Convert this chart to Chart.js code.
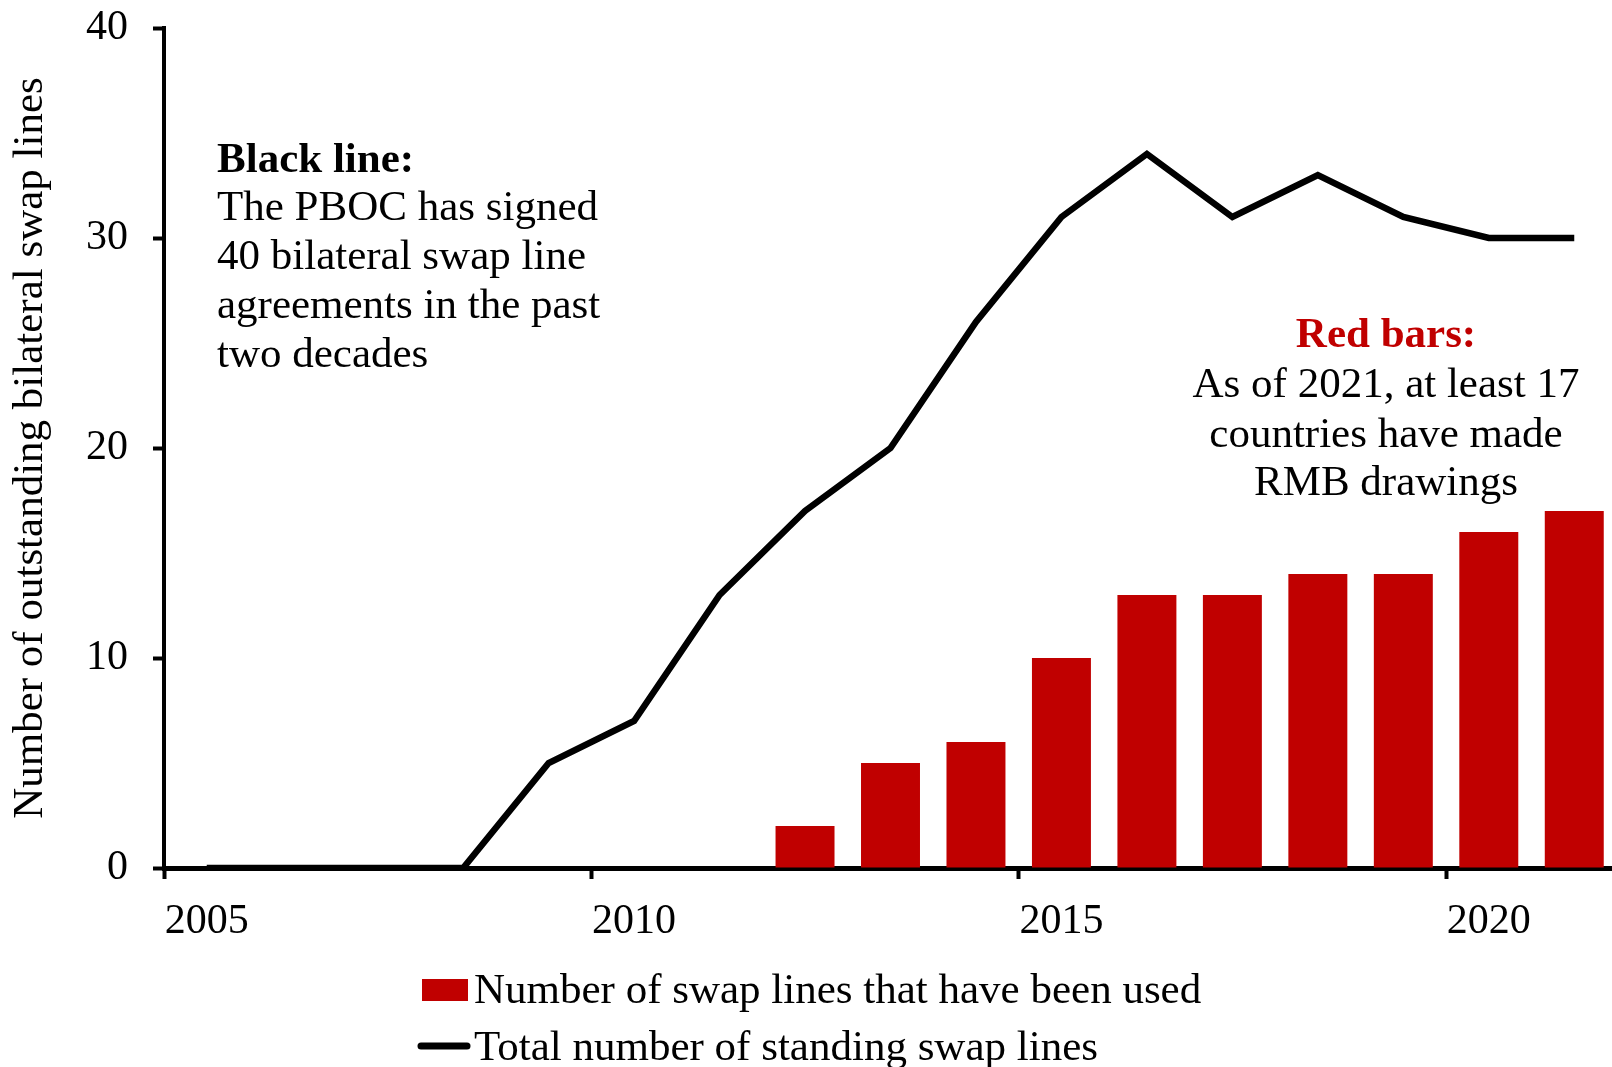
<!DOCTYPE html>
<html>
<head>
<meta charset="utf-8">
<script src="https://cdn.jsdelivr.net/npm/chart.js@4.4.1/dist/chart.umd.min.js"></script>
<style>
  html, body { margin: 0; padding: 0; background: #ffffff; overflow: hidden; }
  #wrap { width: 1612px; height: 1067px; overflow: hidden; }
  #c { display: block; }
</style>
</head>
<body>
<div id="wrap"><canvas id="c" width="1617" height="1067"></canvas></div>
<script>
// ---- data ----
const years = ['2005','2006','2007','2008','2009','2010','2011','2012','2013','2014','2015','2016','2017','2018','2019','2020','2021'];
const usedSwapLines = [0,0,0,0,0,0,0,2,5,6,10,13,13,14,14,16,17];
const totalSwapLines = [0,0,0,0,5,7,13,17,20,26,31,34,31,33,31,30,30];
const yTickValues = [0,10,20,30,40];
const labelUsed = 'Number of swap lines that have been used';
const labelTotal = 'Total number of standing swap lines';
const yTitle = 'Number of outstanding bilateral swap lines';
const blackNote = ['Black line:', 'The PBOC has signed', '40 bilateral swap line', 'agreements in the past', 'two decades'];
const redNote = ['Red bars:', 'As of 2021, at least 17', 'countries have made', 'RMB drawings'];

const FONT = "'Liberation Serif', 'Times New Roman', serif";
const RED = '#C00000';

const notesPlugin = {
  id: 'notes',
  afterDraw(chart) {
    const ctx = chart.ctx;
    ctx.save();
    ctx.textBaseline = 'alphabetic';
    ctx.textAlign = 'left';
    const bx = 217, by = [172, 220, 269, 318, 367];
    blackNote.forEach((t, i) => {
      ctx.font = (i === 0 ? 'bold ' : '') + '43px ' + FONT;
      ctx.fillStyle = '#000';
      ctx.fillText(t, bx, by[i]);
    });
    ctx.textAlign = 'center';
    const rx = 1386, ry = [347, 397, 447, 495];
    redNote.forEach((t, i) => {
      ctx.font = (i === 0 ? 'bold ' : '') + '43px ' + FONT;
      ctx.fillStyle = i === 0 ? RED : '#000';
      ctx.fillText(t, rx, ry[i]);
    });
    ctx.restore();
  }
};

const legendPlugin = {
  id: 'customLegend',
  afterDraw(chart) {
    const ctx = chart.ctx;
    ctx.save();
    ctx.font = '43px ' + FONT;
    ctx.textAlign = 'left';
    ctx.textBaseline = 'alphabetic';
    const rows = [
      { ds: chart.data.datasets[0], baseline: 1003, symY: 990 },
      { ds: chart.data.datasets[1], baseline: 1060, symY: 1046 }
    ];
    rows.forEach(r => {
      if (r.ds.type === 'line') {
        ctx.strokeStyle = r.ds.borderColor;
        ctx.lineWidth = 7;
        ctx.lineCap = 'round';
        ctx.beginPath();
        ctx.moveTo(421, r.symY);
        ctx.lineTo(467, r.symY);
        ctx.stroke();
      } else {
        ctx.fillStyle = r.ds.backgroundColor;
        ctx.fillRect(422, r.symY - 11, 46, 22);
      }
      ctx.fillStyle = '#000';
      ctx.fillText(r.ds.label, 474, r.baseline);
    });
    ctx.restore();
  }
};

new Chart(document.getElementById('c'), {
  type: 'bar',
  data: {
    labels: years,
    datasets: [
      {
        type: 'bar',
        label: labelUsed,
        data: usedSwapLines,
        backgroundColor: RED,
        borderWidth: 0,
        categoryPercentage: 0.69,
        barPercentage: 1.0,
        order: 2
      },
      {
        type: 'line',
        label: labelTotal,
        data: totalSwapLines,
        borderColor: '#000000',
        backgroundColor: '#000000',
        borderWidth: 6.5,
        pointRadius: 0,
        tension: 0,
        fill: false,
        order: 1
      }
    ]
  },
  options: {
    responsive: false,
    devicePixelRatio: 1,
    animation: false,
    layout: { padding: { top: 28, right: 0, bottom: 119, left: 0 } },
    plugins: {
      legend: { display: false },
      tooltip: { enabled: false },
      title: { display: false }
    },
    scales: {
      x: {
        type: 'category',
        offset: true,
        grid: {
          offset: true,
          drawOnChartArea: false,
          drawTicks: true,
          tickLength: 11,
          tickWidth: 4,
          tickColor: (c) => (typeof c.index === 'number' && c.index % 5 === 0) ? '#000' : 'rgba(0,0,0,0)'
        },
        border: { display: true, color: '#000', width: 5 },
        ticks: {
          autoSkip: false,
          maxRotation: 0,
          minRotation: 0,
          padding: 18,
          color: '#000',
          font: { family: FONT, size: 42 },
          callback: function (v, i) {
            const y = this.getLabelForValue(v);
            return Number(y) % 5 === 0 ? y : '';
          }
        },
        afterFit: (s) => { s.height = 80; s.paddingLeft = 0; s.paddingRight = 0; }
      },
      y: {
        min: 0,
        max: 40,
        afterBuildTicks: (s) => { s.ticks = yTickValues.map(v => ({ value: v })); },
        grid: {
          drawOnChartArea: false,
          drawTicks: true,
          tickLength: 11,
          tickWidth: 4,
          tickColor: '#000'
        },
        border: { display: true, color: '#000', width: 4 },
        ticks: {
          padding: 25,
          color: '#000',
          font: { family: FONT, size: 42 }
        },
        title: {
          display: true,
          text: yTitle,
          color: '#000',
          font: { family: FONT, size: 43, weight: 'normal' },
          padding: { top: 5, bottom: 0 }
        },
        afterFit: (s) => { s.width = 164; s.paddingTop = 20; s.paddingBottom = 20; }
      }
    }
  },
  plugins: [notesPlugin, legendPlugin]
});
</script>
</body>
</html>
